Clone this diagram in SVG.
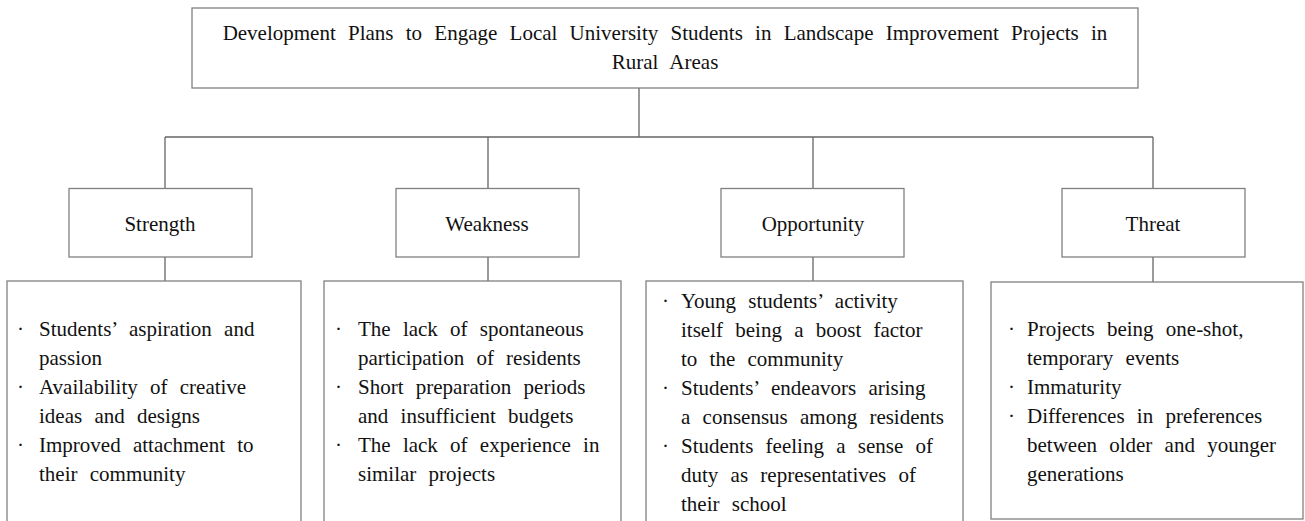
<svg xmlns="http://www.w3.org/2000/svg" width="1305" height="521" viewBox="0 0 1305 521">
<style>
  .box { fill: #ffffff; stroke: #808080; stroke-width: 1.3; }
  .conn { fill: none; stroke: #666666; stroke-width: 1.3; }
  text { font-family: "Liberation Serif", "Times New Roman", serif; font-size: 21px; fill: #111111; word-spacing: 7px; }
  .c { text-anchor: middle; word-spacing: 0; }
  .t { text-anchor: middle; }
</style>
<rect width="1305" height="521" fill="#ffffff"/>
<g id="connectors">
  <path class="conn" d="M639 88 V137 M165 137 H1153 M165 137 V188.5 M488 137 V188.5 M813 137 V188.5 M1153 137 V188.5"/>
  <path class="conn" d="M165 257 V281 M488 257 V281 M813 257 V281 M1153 257 V282"/>
</g>
<g id="title">
  <rect class="box" x="192" y="8" width="946" height="80"/>
  <text class="t" x="665" y="40">Development Plans to Engage Local University Students in Landscape Improvement Projects in</text>
  <text class="t" x="665" y="69">Rural Areas</text>
</g>
<g id="strength">
  <rect class="box" x="69" y="188.5" width="183" height="68.5"/>
  <text class="c" x="160" y="231">Strength</text>
</g>
<g id="weakness">
  <rect class="box" x="396" y="188.5" width="183" height="68.5"/>
  <text class="c" x="487" y="231">Weakness</text>
</g>
<g id="opportunity">
  <rect class="box" x="721" y="188.5" width="183" height="68.5"/>
  <text class="c" x="813" y="231">Opportunity</text>
</g>
<g id="threat">
  <rect class="box" x="1062" y="188.5" width="183" height="68.5"/>
  <text class="c" x="1153" y="231">Threat</text>
</g>
<g id="strength-items">
  <rect class="box" x="7" y="281" width="294" height="260"/>
  <text x="17" y="336">·</text><text x="39" y="336">Students’ aspiration and</text>
  <text x="39" y="365">passion</text>
  <text x="17" y="394">·</text><text x="39" y="394">Availability of creative</text>
  <text x="39" y="423">ideas and designs</text>
  <text x="17" y="452">·</text><text x="39" y="452">Improved attachment to</text>
  <text x="39" y="481">their community</text>
</g>
<g id="weakness-items">
  <rect class="box" x="324" y="281" width="297" height="260"/>
  <text x="335" y="336">·</text><text x="358" y="336">The lack of spontaneous</text>
  <text x="358" y="365">participation of residents</text>
  <text x="335" y="394">·</text><text x="358" y="394">Short preparation periods</text>
  <text x="358" y="423">and insufficient budgets</text>
  <text x="335" y="452">·</text><text x="358" y="452">The lack of experience in</text>
  <text x="358" y="481">similar projects</text>
</g>
<g id="opportunity-items">
  <rect class="box" x="646" y="281" width="317" height="260"/>
  <text x="662" y="308">·</text><text x="681" y="308">Young students’ activity</text>
  <text x="681" y="337">itself being a boost factor</text>
  <text x="681" y="366">to the community</text>
  <text x="662" y="395">·</text><text x="681" y="395">Students’ endeavors arising</text>
  <text x="681" y="424">a consensus among residents</text>
  <text x="662" y="453">·</text><text x="681" y="453">Students feeling a sense of</text>
  <text x="681" y="482">duty as representatives of</text>
  <text x="681" y="511">their school</text>
</g>
<g id="threat-items">
  <rect class="box" x="991" y="282" width="312" height="237"/>
  <text x="1008" y="336">·</text><text x="1027" y="336">Projects being one-shot,</text>
  <text x="1027" y="365">temporary events</text>
  <text x="1008" y="394">·</text><text x="1027" y="394">Immaturity</text>
  <text x="1008" y="423">·</text><text x="1027" y="423">Differences in preferences</text>
  <text x="1027" y="452">between older and younger</text>
  <text x="1027" y="481">generations</text>
</g>
</svg>
